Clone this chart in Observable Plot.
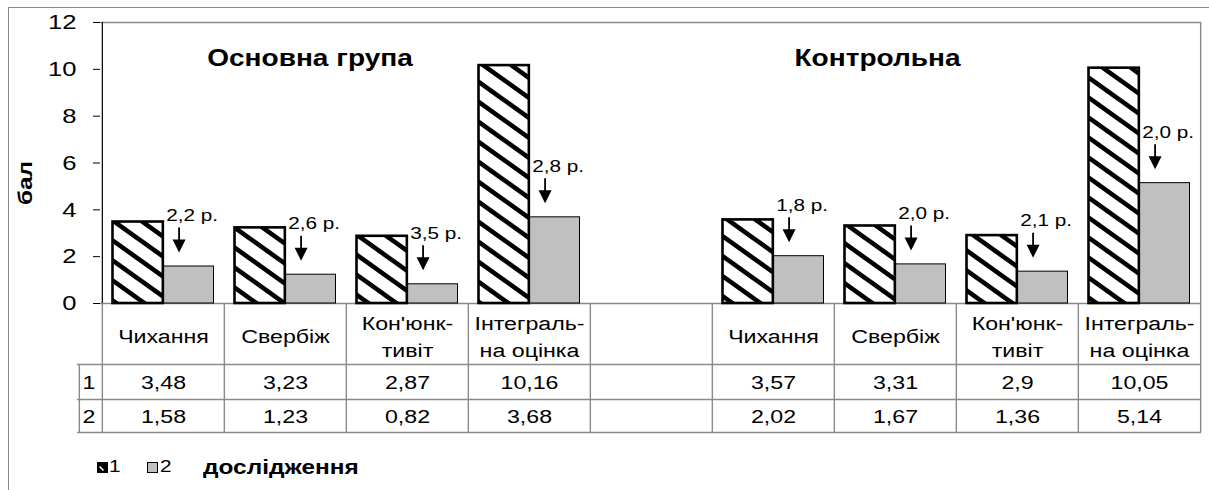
<!DOCTYPE html>
<html>
<head>
<meta charset="utf-8">
<script src="https://cdn.jsdelivr.net/npm/d3@7"></script>
<script src="https://cdn.jsdelivr.net/npm/@observablehq/plot@0.6"></script>
<style>
  html, body { margin: 0; padding: 0; background: #fff; }
  #wrap { position: relative; width: 1209px; height: 490px; overflow: hidden; background: #fff;
          font-family: "Liberation Sans", Arial, sans-serif; color: #000; }
  #outer { position: absolute; left: 8px; top: 7px; width: 1400px; height: 600px;
           border-top: 1px solid #8a8a8a; border-left: 1px solid #8a8a8a; box-sizing: border-box; }
  #chart { position: absolute; left: 0; top: 0; }
  .lg { position: absolute; white-space: nowrap; line-height: 1; }
</style>
</head>
<body>
<div id="wrap">
  <div id="outer"></div>
  <div id="chart"></div>
  <div id="legend"></div>
</div>
<script>
// ---------- data ----------
const groupTitles = ["Основна група", "Контрольна"];
const indicators = ["Чихання", "Свербіж", "Кон'юнк-\nтивіт", "Інтеграль-\nна оцінка"];
const mainStudy1 = [3.48, 3.23, 2.87, 10.16];
const mainStudy2 = [1.58, 1.23, 0.82, 3.68];
const controlStudy1 = [3.57, 3.31, 2.9, 10.05];
const controlStudy2 = [2.02, 1.67, 1.36, 5.14];
const mainRatio = ["2,2 р.", "2,6 р.", "3,5 р.", "2,8 р."];
const controlRatio = ["1,8 р.", "2,0 р.", "2,1 р.", "2,0 р."];
const seriesNames = ["1", "2"];
const legendTitle = "дослідження";
const yLabel = "бал";
const yTicks = [0, 2, 4, 6, 8, 10, 12];

// ---------- derived tables ----------
const mainKeys = indicators.map(d => "main|" + d);
const controlKeys = indicators.map(d => "control|" + d);
const gapKey = "gap";
const xDomain = [...mainKeys, gapKey, ...controlKeys];

const bars = [
  ...indicators.map((label, i) => ({key: mainKeys[i], label, v1: mainStudy1[i], v2: mainStudy2[i], ratio: mainRatio[i]})),
  ...indicators.map((label, i) => ({key: controlKeys[i], label, v1: controlStudy1[i], v2: controlStudy2[i], ratio: controlRatio[i]}))
];
const fmt = v => String(v).replace(".", ",");

// ---------- layout / style ----------
const W = 1209, H = 445, mL = 100, mR = 8, mT = 22, mB = 142;
const bw = (W - mL - mR) / xDomain.length;
const frameH = H - mT - mB;
const gray = "#8a8a8a";
const lw = 1.4;
const ff = "'Liberation Sans', Arial, sans-serif";
const barPad = 10.5;
const row1Top = 61, row2Top = 96, tableBottom = 129, rowLabelW = 23;
const stretch = 1.22;   // glyphs in the original are horizontally wide
const tfs = 19;         // table font size

const downArrow = {
  draw(ctx) {
    ctx.moveTo(0, 0);
    ctx.lineTo(-6.5, -13);
    ctx.lineTo(-0.9, -13);
    ctx.lineTo(-0.9, -25);
    ctx.lineTo(0.9, -25);
    ctx.lineTo(0.9, -13);
    ctx.lineTo(6.5, -13);
    ctx.closePath();
  }
};

const line = {stroke: gray, strokeWidth: lw};

const chart = Plot.plot({
  width: W, height: H,
  marginLeft: mL, marginRight: mR, marginTop: mT, marginBottom: mB,
  style: {fontFamily: ff, fontSize: "20px", color: "black", background: "transparent"},
  x: {domain: xDomain, padding: 0, axis: null},
  y: {domain: [0, 12]},
  marks: [
    // plot-area frame (top, bottom, right)
    Plot.ruleY([12], line),
    Plot.ruleY([0], line),
    Plot.ruleX([xDomain[xDomain.length - 1]], {x: d => d, dx: bw / 2, insetBottom: -tableBottom, ...line}),
    // data table grid
    Plot.ruleY([0], {dy: row1Top, insetLeft: -rowLabelW, ...line}),
    Plot.ruleY([0], {dy: row2Top, insetLeft: -rowLabelW, ...line}),
    Plot.ruleY([0], {dy: tableBottom, insetLeft: -rowLabelW, ...line}),
    Plot.ruleX(xDomain, {x: d => d, dx: -bw / 2, insetTop: frameH, insetBottom: -tableBottom, ...line}),
    Plot.ruleX([xDomain[0]], {x: d => d, dx: -bw / 2 - rowLabelW, insetTop: frameH + row1Top, insetBottom: -tableBottom, ...line}),
    // y axis
    Plot.axisY({ticks: yTicks, tickSize: 7, tickPadding: 17, fontSize: 21, label: null, stroke: "black", color: "black"}),
    Plot.ruleX([xDomain[0]], {x: d => d, dx: -bw / 2, stroke: "black", strokeWidth: 1.2}),
    // bars
    Plot.barY(bars, {x: "key", y: "v2", fill: "#c0c0c0", stroke: "black", strokeWidth: 1, insetLeft: bw / 2, insetRight: barPad}),
    Plot.barY(bars, {x: "key", y: "v1", fill: "url(#hatch)", stroke: "black", strokeWidth: 2.6, insetLeft: barPad, insetRight: bw / 2}),
    // ratio arrows + labels
    Plot.dot(bars, {x: "key", y: "v2", symbol: downArrow, fill: "black", stroke: null, dx: bw / 4 - 15, dy: -14}),
    Plot.text(bars, {x: "key", y: "v2", text: "ratio", dx: bw / 4 - 2, dy: -51, fontSize: 17, lineAnchor: "middle"}),
    // group titles
    Plot.text([{key: mainKeys[1], t: groupTitles[0]}], {x: "key", text: "t", frameAnchor: "top", lineAnchor: "middle", dx: 24.5, dy: 36, fontSize: 23, fontWeight: "bold"}),
    Plot.text([{key: controlKeys[1], t: groupTitles[1]}], {x: "key", text: "t", frameAnchor: "top", lineAnchor: "middle", dx: -18, dy: 36, fontSize: 23, fontWeight: "bold"}),
    // y label
    Plot.text([yLabel], {text: d => d, frameAnchor: "left", textAnchor: "middle", lineAnchor: "middle", dx: -75, dy: 20, rotate: -90, fontSize: 20, fontWeight: "bold"}),
    // table contents
    Plot.text(bars, {x: "key", text: "label", frameAnchor: "bottom", lineAnchor: "middle", dy: 31, fontSize: tfs, lineHeight: 1.45}),
    Plot.text(bars, {x: "key", text: d => fmt(d.v1), frameAnchor: "bottom", lineAnchor: "middle", dy: 79, fontSize: tfs}),
    Plot.text(bars, {x: "key", text: d => fmt(d.v2), frameAnchor: "bottom", lineAnchor: "middle", dy: 113, fontSize: tfs}),
    Plot.text([seriesNames[0]], {text: d => d, frameAnchor: "bottom-left", textAnchor: "middle", lineAnchor: "middle", dx: -rowLabelW / 2, dy: 79, fontSize: tfs}),
    Plot.text([seriesNames[1]], {text: d => d, frameAnchor: "bottom-left", textAnchor: "middle", lineAnchor: "middle", dx: -rowLabelW / 2, dy: 113, fontSize: tfs})
  ]
});

// hatch pattern
const hw = 28, hh = 20;
const defs = d3.select(chart).insert("defs", ":first-child");
const pat = defs.append("pattern").attr("id", "hatch").attr("patternUnits", "userSpaceOnUse")
  .attr("width", hw).attr("height", hh);
pat.append("rect").attr("width", hw).attr("height", hh).attr("fill", "white");
for (const o of [-hh, 0, hh]) {
  pat.append("line")
    .attr("x1", -4).attr("y1", o - 4 * hh / hw)
    .attr("x2", hw + 4).attr("y2", o + (hw + 4) * hh / hw)
    .attr("stroke", "black").attr("stroke-width", 4.6);
}

// widen glyphs horizontally about each text's anchor point
d3.select(chart).selectAll("text").each(function () {
  const t = d3.select(this);
  const tr = t.attr("transform");
  if (tr) {
    t.attr("transform", `${tr} scale(${stretch},1)`);
  } else {
    const x = +t.attr("x"), y = +t.attr("y");
    if (isFinite(x) && isFinite(y)) {
      t.attr("x", null).attr("y", null).attr("transform", `translate(${x},${y}) scale(${stretch},1)`);
    }
  }
});
document.getElementById("chart").appendChild(chart);

// ---------- legend (below the SVG) ----------
const lg = document.getElementById("legend");
const ns = "http://www.w3.org/2000/svg";
function icon(left, kind) {
  const s = document.createElementNS(ns, "svg");
  s.setAttribute("width", 11); s.setAttribute("height", 11);
  s.setAttribute("class", "lg");
  s.style.left = left + "px"; s.style.top = "462px";
  if (kind === 1) {
    s.innerHTML = '<rect x="0.75" y="0.75" width="9.5" height="9.5" fill="black" stroke="black" stroke-width="1.5"/>' +
                  '<path d="M2.5 4.5 L6.5 8.5" stroke="white" stroke-width="1.6"/>';
  } else {
    s.innerHTML = '<rect x="0.5" y="0.5" width="10" height="10" fill="#c0c0c0" stroke="black" stroke-width="1"/>';
  }
  lg.appendChild(s);
}
function label(left, text, size, bold) {
  const d = document.createElement("div");
  d.className = "lg";
  d.textContent = text;
  d.style.left = left + "px";
  d.style.fontSize = size + "px";
  d.style.transform = `scaleX(${stretch})`;
  d.style.transformOrigin = "left center";
  d.style.top = (468 - size * 0.56) + "px";
  if (bold) d.style.fontWeight = "bold";
  lg.appendChild(d);
}
icon(97, 1); label(109, seriesNames[0], 17, false);
icon(147, 2); label(160, seriesNames[1], 17, false);
label(203, legendTitle, 20, true);
</script>
</body>
</html>
